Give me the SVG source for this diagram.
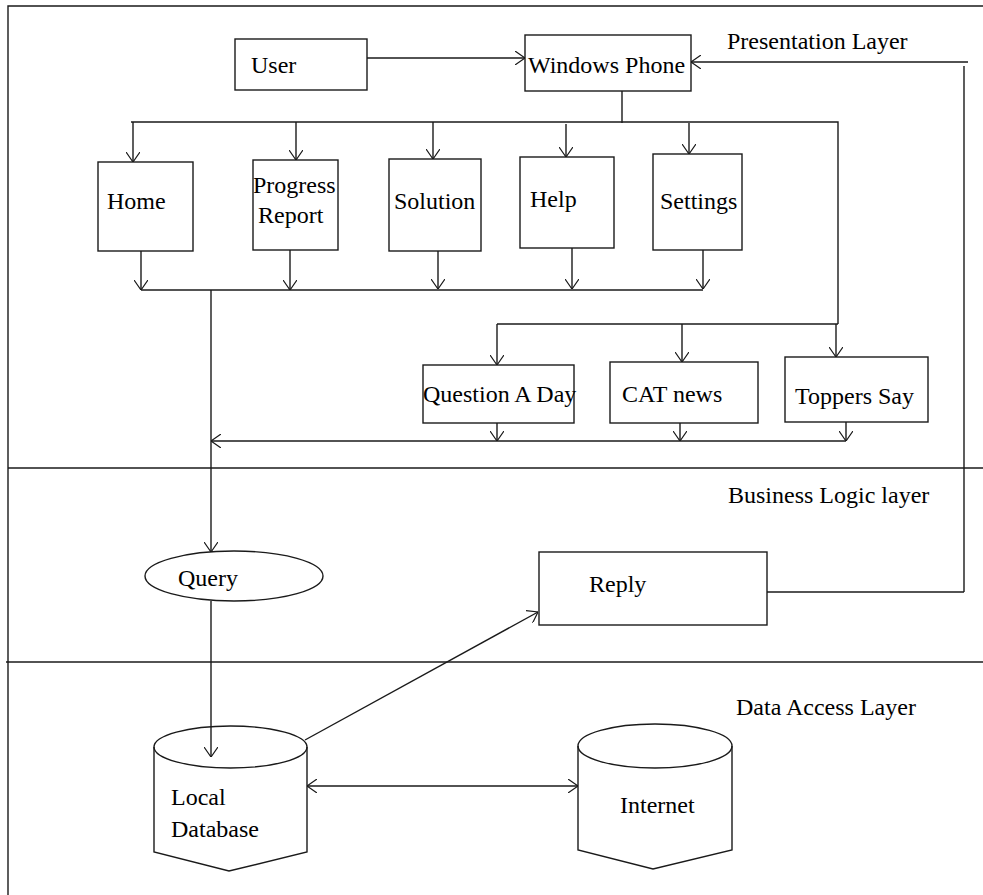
<svg xmlns="http://www.w3.org/2000/svg" width="983" height="895" viewBox="0 0 983 895">
<defs>
<style>
.ln{stroke:#1a1a1a;stroke-width:1.4;fill:none}
.bx{stroke:#1a1a1a;stroke-width:1.4;fill:#fff}
.cy{stroke:#1a1a1a;stroke-width:1.4;fill:none}
.t{font-family:'Liberation Serif',serif;font-size:24px;fill:#000}
.a{marker-end:url(#ah)}
</style>
<marker id="ah" viewBox="0 0 10 14" refX="10" refY="7" markerWidth="10" markerHeight="14" markerUnits="userSpaceOnUse" orient="auto-start-reverse">
<path d="M0,0 L10,7 L0,14" fill="none" stroke="#1a1a1a" stroke-width="1.2"/>
</marker>
</defs>
<rect width="983" height="895" fill="#fff"/>
<g font-family="Liberation Serif, serif">
<g id="frame">
<path class="ln" d="M8,895 V6 H983"/>
<path class="ln" d="M8,468 H983"/>
<path class="ln" d="M6,662 H983"/>
<text class="t" x="727" y="49">Presentation Layer</text>
<text class="t" x="728" y="503">Business Logic layer</text>
<text class="t" x="736" y="715">Data Access Layer</text>
</g>
<g id="user">
<rect class="bx" x="235" y="39" width="132" height="51"/>
<text class="t" x="251" y="73">User</text>
</g>
<g id="windows-phone">
<rect class="bx" x="525" y="35" width="166" height="56"/>
<text class="t" x="528" y="73">Windows Phone</text>
</g>
<g id="home">
<rect class="bx" x="98" y="162" width="95" height="89"/>
<text class="t" x="107" y="209">Home</text>
</g>
<g id="progress-report">
<rect class="bx" x="253" y="160" width="85" height="90"/>
<text class="t" x="253" y="193">Progress</text>
<text class="t" x="258" y="223">Report</text>
</g>
<g id="solution">
<rect class="bx" x="389" y="159" width="92" height="92"/>
<text class="t" x="394" y="209">Solution</text>
</g>
<g id="help">
<rect class="bx" x="520" y="157" width="94" height="91"/>
<text class="t" x="530" y="207">Help</text>
</g>
<g id="settings">
<rect class="bx" x="653" y="154" width="89" height="96"/>
<text class="t" x="660" y="209">Settings</text>
</g>
<g id="question-a-day">
<rect class="bx" x="423" y="365" width="151" height="58"/>
<text class="t" x="423" y="402">Question A Day</text>
</g>
<g id="cat-news">
<rect class="bx" x="610" y="362" width="148" height="61"/>
<text class="t" x="622" y="402">CAT news</text>
</g>
<g id="toppers-say">
<rect class="bx" x="785" y="357" width="143" height="65"/>
<text class="t" x="795" y="404">Toppers Say</text>
</g>
<g id="query">
<ellipse class="bx" cx="234" cy="576" rx="89" ry="25"/>
<text class="t" x="178" y="586">Query</text>
</g>
<g id="reply">
<rect class="bx" x="539" y="552" width="228" height="73"/>
<text class="t" x="589" y="592">Reply</text>
</g>
<g id="local-database">
<path class="cy" d="M154,747 V852 L229,871 L307,852 V747"/>
<ellipse class="cy" cx="230.5" cy="747" rx="76.5" ry="21"/>
<text class="t" x="171" y="805">Local</text>
<text class="t" x="171" y="837">Database</text>
</g>
<g id="internet">
<path class="cy" d="M578,746 V850 L653,869 L732,850 V746"/>
<ellipse class="cy" cx="655" cy="746" rx="77" ry="22"/>
<text class="t" x="620" y="813">Internet</text>
</g>
</g>
<g id="connectors">
<path class="ln a" d="M367,58 H525"/>
<path class="ln a" d="M964,592 V66 M968,62 H691"/>
<path class="ln" d="M767,592 H964"/>
<path class="ln" d="M622,91 V123 M131,122 H838 V324"/>
<path class="ln a" d="M133,122 V162"/>
<path class="ln a" d="M296,122 V160"/>
<path class="ln a" d="M433,122 V159"/>
<path class="ln a" d="M566,124 V157"/>
<path class="ln a" d="M689,123 V154"/>
<path class="ln a" d="M141,251 V290"/>
<path class="ln a" d="M290,250 V290"/>
<path class="ln a" d="M438,251 V289"/>
<path class="ln a" d="M572,248 V289"/>
<path class="ln a" d="M703,250 V289"/>
<path class="ln" d="M141,290 H703"/>
<path class="ln a" d="M211,290 V552"/>
<path class="ln" d="M497,324 H838"/>
<path class="ln a" d="M497,324 V365"/>
<path class="ln a" d="M682,324 V362"/>
<path class="ln a" d="M836,324 V357"/>
<path class="ln a" d="M497,423 V441"/>
<path class="ln a" d="M680,423 V441"/>
<path class="ln a" d="M846,422 V441"/>
<path class="ln a" d="M846,441 H211"/>
<path class="ln a" d="M211,601 V757"/>
<path class="ln a" d="M305,740 L538,612"/>
<path class="ln a" d="M307,786 H578" style="marker-start:url(#ah)"/>
</g>
</svg>
